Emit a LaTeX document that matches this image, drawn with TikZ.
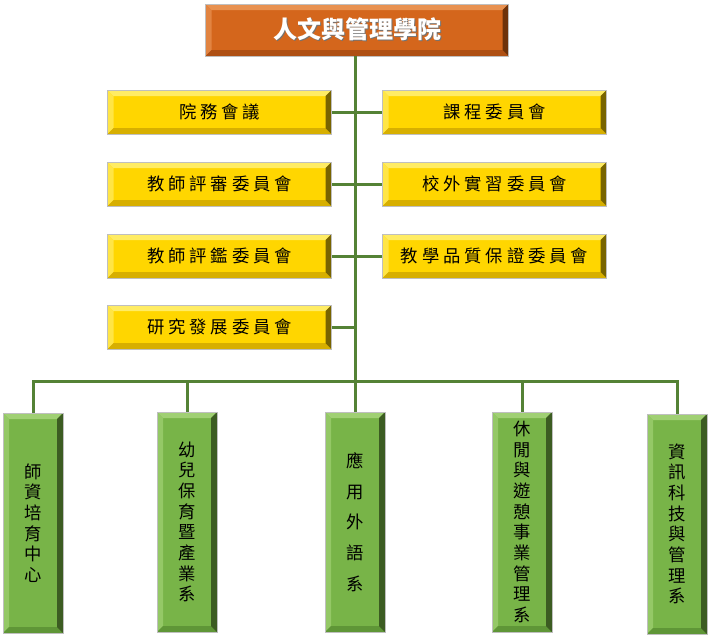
\documentclass[tikz,border=0pt]{standalone}
\usepackage{fontspec}
\newfontfamily\cjk{Noto Sans CJK TC}
\definecolor{linegreen}{RGB}{84,130,53}
\definecolor{yface}{RGB}{255,214,0}
\definecolor{ylight}{RGB}{255,236,100}
\definecolor{ydark}{RGB}{120,100,0}
\definecolor{ylow}{RGB}{215,175,0}
\definecolor{gface}{RGB}{120,180,72}
\definecolor{glight}{RGB}{160,208,115}
\definecolor{gdark}{RGB}{60,92,34}
\definecolor{glow}{RGB}{95,150,55}
\definecolor{oface}{RGB}{212,102,28}
\definecolor{olight}{RGB}{232,145,80}
\definecolor{odark}{RGB}{110,50,10}
\definecolor{olow}{RGB}{175,80,20}
\newcommand{\shadowtext}[1]{{\color{black!55}\rlap{\kern1pt\raisebox{-1pt}{#1}}}#1}
\tikzset{
  bevel/.style n args={4}{fill=#1, draw=black!25, line width=0.6pt, inner sep=0pt,
    path picture={
      \fill[#2] (path picture bounding box.north west) -- (path picture bounding box.north east)
        -- ([xshift=-4.5pt,yshift=-4.5pt]path picture bounding box.north east)
        -- ([xshift=4.5pt,yshift=-4.5pt]path picture bounding box.north west) -- cycle;
      \fill[#2!70!#1] (path picture bounding box.north west) -- (path picture bounding box.south west)
        -- ([xshift=4.5pt,yshift=4.5pt]path picture bounding box.south west)
        -- ([xshift=4.5pt,yshift=-4.5pt]path picture bounding box.north west) -- cycle;
      \fill[#4] (path picture bounding box.south west) -- (path picture bounding box.south east)
        -- ([xshift=-4.5pt,yshift=4.5pt]path picture bounding box.south east)
        -- ([xshift=4.5pt,yshift=4.5pt]path picture bounding box.south west) -- cycle;
      \fill[#3] (path picture bounding box.north east) -- (path picture bounding box.south east)
        -- ([xshift=-4.5pt,yshift=4.5pt]path picture bounding box.south east)
        -- ([xshift=-4.5pt,yshift=-4.5pt]path picture bounding box.north east) -- cycle;
    }},
  topbox/.style={bevel={oface}{olight}{odark}{olow}, minimum width=227.25pt, minimum height=39pt,
    text=white, font=\cjk\bfseries\fontsize{18}{21}\selectfont},
  yellowbox/.style={bevel={yface}{ylight}{ydark}{ylow}, minimum width=168pt, minimum height=33pt,
    font=\cjk\fontsize{13}{16}\selectfont},
  greenbox/.style={bevel={gface}{glight}{gdark}{glow}, minimum width=45pt, minimum height=165pt,
    align=center, font=\cjk\fontsize{13}{15.5}\selectfont},
  conn/.style={linegreen, line width=2.25pt}
}
\begin{document}
\begin{tikzpicture}[x=0.75pt,y=-0.75pt]
\useasboundingbox (0,0) rectangle (710,640);

\node[topbox] (college) at (357,30) {\shadowtext{人文與管理學院}};

% committees
\node[yellowbox] (k1) at (219.5,112) {院 務 會 議};
\node[yellowbox] (r1) at (494.5,112) {課 程 委 員 會};
\node[yellowbox] (k2) at (219.5,184) {教 師 評 審 委 員 會};
\node[yellowbox] (r2) at (494.5,184) {校 外 實 習 委 員 會};
\node[yellowbox] (k3) at (219.5,256) {教 師 評 鑑 委 員 會};
\node[yellowbox] (r3) at (494.5,256) {教 學 品 質 保 證 委 員 會};
\node[yellowbox] (k4) at (219.5,327) {研 究 發 展 委 員 會};

% departments
\node[greenbox] (d1) at (33,523) {師\\資\\培\\育\\中\\心};
\node[greenbox] (d2) at (187,522) {幼\\兒\\保\\育\\暨\\產\\業\\系};
\node[greenbox, font=\cjk\fontsize{13}{23}\selectfont] (d3) at (355,522) {應\\用\\外\\語\\系};
\node[greenbox] (d4) at (522,522) {休\\閒\\與\\遊\\憩\\事\\業\\管\\理\\系};
\node[greenbox] (d5) at (677,524) {資\\訊\\科\\技\\與\\管\\理\\系};

\coordinate (bus) at (355,381);

\draw[conn] (college.south -| bus) -- (bus);
\draw[conn] (k1.east) -- (r1.west);
\draw[conn] (k2.east) -- (r2.west);
\draw[conn] (k3.east) -- (r3.west);
\draw[conn] (k4.east) -- (k4.east -| bus);

\draw[conn] (d1.north) -- (d1.north |- bus) -- (d5.north |- bus) -- (d5.north);
\foreach \d in {d2,d3,d4}
  \draw[conn] (\d.north) -- (\d.north |- bus);
\end{tikzpicture}
\end{document}
